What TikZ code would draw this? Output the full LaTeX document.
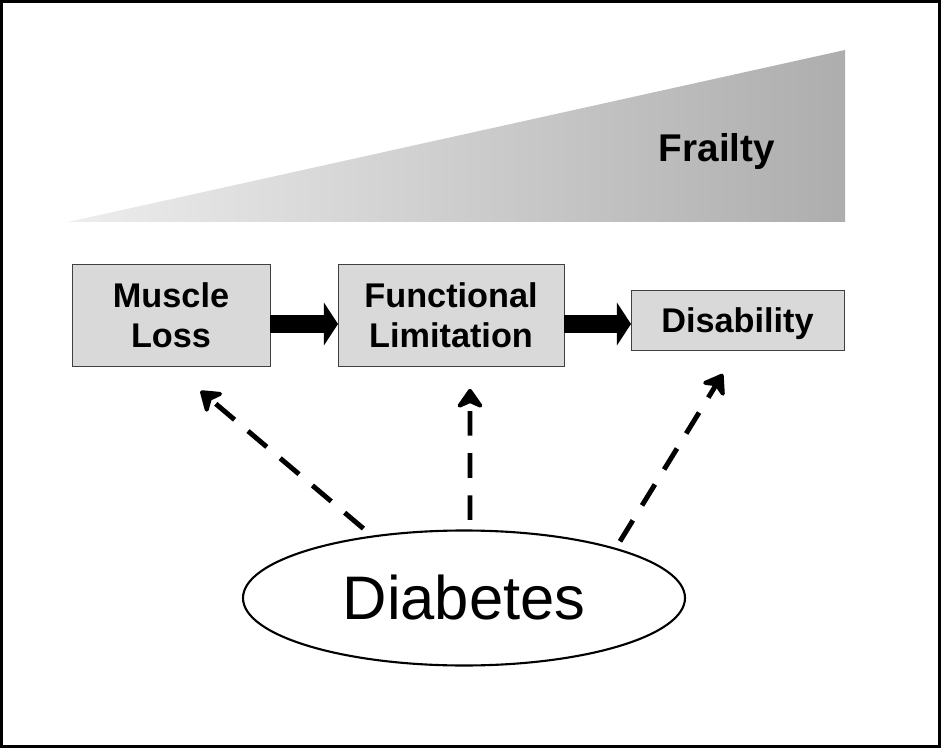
\documentclass[tikz,border=0pt]{standalone}
\usepackage{fontspec}
\setmainfont{Liberation Sans}
\usetikzlibrary{arrows.meta,positioning,shapes.geometric}

\begin{document}
\begin{tikzpicture}[every node/.style={outer sep=0pt},
 stagebox/.style={draw=black!75,fill=black!15,thin,align=center,
 font=\fontsize{19.5}{22.5}\selectfont\bfseries},
 blockarrow/.style={line width=10pt,-{Triangle[length=8pt,width=24pt]}},
 dasharrow/.style={line width=2.8pt,dash pattern=on 14pt off 10pt,
 -{Stealth[length=13pt,width=18pt,inset=4pt,round]}}]

  \useasboundingbox (0,0) rectangle (18.82,-14.96);
  \draw[line width=1.6pt] (0.03,-0.03) rectangle (18.79,-14.93);

  % frailty wedge
  \shade[left color=black!7,right color=black!32]
   (1.36,-4.44) -- (16.9,-1.0) -- (16.9,-4.44) -- cycle;
  \node[font=\fontsize{22}{26}\selectfont\bfseries] (fr) at (14.34,-3.04) {Frailty};

  \node[stagebox,minimum width=3.96cm,minimum height=2.04cm] (ml) at (3.42,-6.30)
   {Muscle\\Loss};
  \node[stagebox,right=1.36cm of ml,minimum width=4.52cm,minimum height=2.04cm] (fl)
   {Functional\\Limitation};
  \node[stagebox,right=1.34cm of fl,yshift=-0.1cm,minimum width=4.26cm,
   minimum height=1.2cm,text depth=0pt] (dis) {Disability};

  \draw[blockarrow] ([yshift=-0.18cm]ml.east) coordinate(aux) -- (fl.west|-aux);
  \draw[blockarrow] ([yshift=-0.18cm]fl.east) coordinate(aux') -- (dis.west|-aux');

  \node[draw,ellipse,line width=1.2pt,minimum width=8.84cm,minimum height=2.7cm,
   font=\fontsize{35}{40}\selectfont] (dia) at (9.28,-11.96) {Diabetes};

  \draw[dasharrow,shorten <=7pt,shorten >=22pt] (dia.146) -- (ml.south);
  \draw[dasharrow,shorten <=6pt,shorten >=13pt] ([xshift=0.12cm]dia.north)
   -- ([xshift=0.38cm]fl.south);
  \draw[dasharrow,shorten <=5pt,shorten >=16pt] (dia.18) -- (dis.south);

\end{tikzpicture}
\end{document}
